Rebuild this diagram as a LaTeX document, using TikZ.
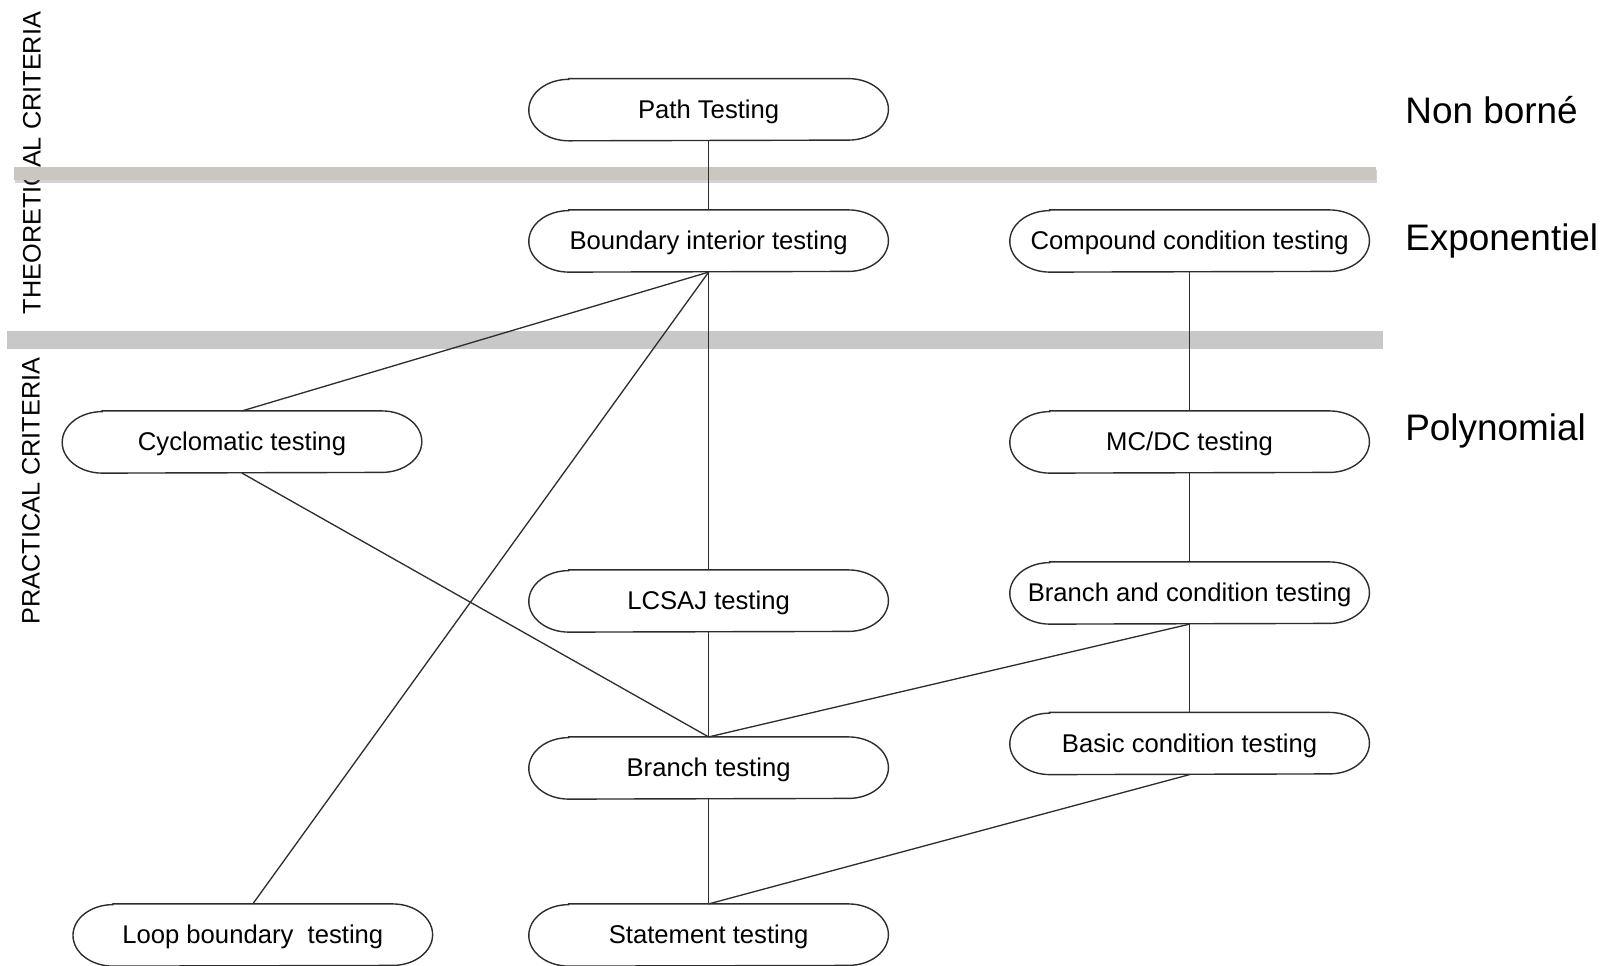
\documentclass[tikz,border=0pt]{standalone}
\usepackage{fontspec}
\setmainfont{Liberation Sans}
\usepackage{tikz}
\usetikzlibrary{shadows}
\definecolor{barbeige}{RGB}{203,198,191}
\definecolor{bargrey}{RGB}{200,200,200}
\definecolor{edgegrey}{RGB}{45,45,45}

\begin{document}
\begin{tikzpicture}[x=0.02cm,y=-0.02cm,
  crit/.style={minimum width=7.18cm,minimum height=1.23cm,inner sep=0pt,
    text height=13pt,text depth=3.1pt,
    font=\fontsize{14.6}{17}\selectfont,
    append after command={\pgfextra{\draw[draw=edgegrey,line width=0.8pt]
      ([xshift=0.8cm]\tikzlastnode.north west) -- ([xshift=-0.8cm]\tikzlastnode.north east)
      arc[start angle=90,end angle=-90,x radius=0.8cm,y radius=0.615cm]
      -- ([xshift=0.8cm]\tikzlastnode.south west)
      arc[start angle=270,end angle=90,x radius=0.8cm,y radius=0.615cm] -- cycle;}}},
  level/.style={anchor=west,inner sep=0pt,font=\fontsize{21}{25}\selectfont},
  side/.style={rotate=90,inner sep=0pt,font=\fontsize{14.4}{17}\selectfont},
  link/.style={draw=edgegrey,line width=0.75pt}]
\useasboundingbox (0,0) rectangle (1608,965);
%-------->side labels<--------------
\node[side] (theo) at (32,163) {THEORETICAL CRITERIA};
\node[side] (prac) at (31,491) {PRACTICAL CRITERIA};
%-------->bars<--------------
\fill[barbeige,drop shadow={opacity=0.35,shadow xshift=0.6pt,shadow yshift=-1.6pt}] (14,167) rectangle (1376,180);
\fill[bargrey] (7,331) rectangle (1383,349);
%-------->nodes<--------------
\node[crit] (path) at (708.6,109.7) {Path Testing};
\node[crit] (bound) at (708.6,241) {Boundary interior testing};
\node[crit] (comp) at (1189.6,241) {Compound condition testing};
\node[crit] (cyclo) at (242,442) {Cyclomatic testing};
\node[crit] (mcdc) at (1189.6,442) {MC/DC testing};
\node[crit] (lcsaj) at (708.6,601) {LCSAJ testing};
\node[crit] (bcond) at (1189.6,593) {Branch and condition testing};
\node[crit] (branch) at (708.6,768) {Branch testing};
\node[crit] (basic) at (1189.6,743.5) {Basic condition testing};
\node[crit] (loop) at (252.8,935) {Loop boundary\ \ testing};
\node[crit] (stmt) at (708.6,935) {Statement testing};
%-------->levels<--------------
\node[level] (nb) at (1405,110) {Non borné};
\node[level] (expo) at (1405,241) {Exponentiel};
\node[level] (poly) at (1405,431) {Polynomial};
%-------->links<--------------
\draw[link] (path.south) -- (bound.north);
\draw[link] (bound.south) -- (cyclo.north);
\draw[link] (bound.south) -- (loop.north);
\draw[link] (bound.south) -- (lcsaj.north);
\draw[link] (comp.south) -- (mcdc.north);
\draw[link] (mcdc.south) -- (bcond.north);
\draw[link] (bcond.south) -- (basic.north);
\draw[link] (bcond.south) -- (branch.north);
\draw[link] (cyclo.south) -- (branch.north);
\draw[link] (lcsaj.south) -- (branch.north);
\draw[link] (branch.south) -- (stmt.north);
\draw[link] (basic.south) -- (stmt.north);
\end{tikzpicture}
\end{document}
